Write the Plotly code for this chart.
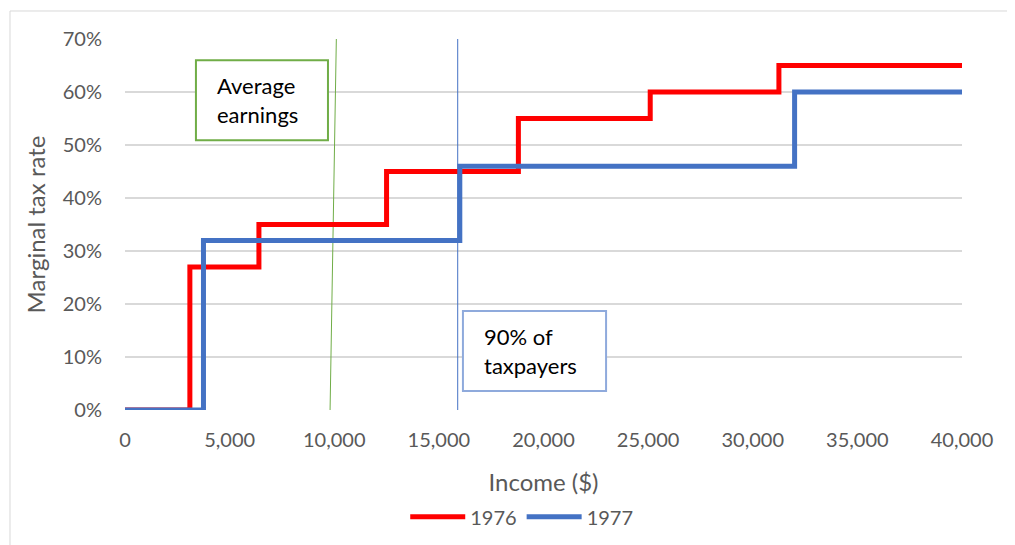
import plotly.graph_objects as go

# Data
income_1976 = [0, 3100, 6400, 12500, 18800, 25100, 31250, 40000]
rate_1976 = [0.0, 0.27, 0.35, 0.45, 0.55, 0.60, 0.65, 0.65]
income_1977 = [0, 3750, 16000, 32000, 40000]
rate_1977 = [0.0, 0.32, 0.46, 0.60, 0.60]
series_names = ["1976", "1977"]
avg_earnings_x = [9800, 10100]
taxpayers90_x = [15900, 15900]
ref_y = [0.0, 0.70]
x_ticks = [0, 5000, 10000, 15000, 20000, 25000, 30000, 35000, 40000]
y_ticks = [0, 0.1, 0.2, 0.3, 0.4, 0.5, 0.6, 0.7]

FONT = "Lato"
TXT = "#595959"

fig = go.Figure()
fig.add_trace(go.Scatter(x=avg_earnings_x, y=ref_y, mode="lines",
                         line=dict(color="#70AD47", width=1), showlegend=False, hoverinfo="skip"))
fig.add_trace(go.Scatter(x=taxpayers90_x, y=ref_y, mode="lines",
                         line=dict(color="#4472C4", width=1), showlegend=False, hoverinfo="skip"))
fig.add_trace(go.Scatter(x=income_1976, y=rate_1976, mode="lines", name=series_names[0],
                         line=dict(color="#FF0000", width=5, shape="hv")))
fig.add_trace(go.Scatter(x=income_1977, y=rate_1977, mode="lines", name=series_names[1],
                         line=dict(color="#4472C4", width=5, shape="hv")))

# Annotation boxes
fig.add_shape(type="rect", xref="x", yref="y", x0=3390, x1=9700, y0=0.509, y1=0.660,
              line=dict(color="#70AD47", width=2), fillcolor="white", layer="above")
fig.add_shape(type="rect", xref="x", yref="y", x0=16150, x1=22990, y0=0.036, y1=0.187,
              line=dict(color="#8FAADC", width=2), fillcolor="white", layer="above")
fig.add_annotation(x=4300, y=0.5845, xref="x", yref="y", text="Average<br>earnings",
                   showarrow=False, xanchor="left", yanchor="middle", align="left",
                   font=dict(family=FONT, size=22, color="black"))
fig.add_annotation(x=17050, y=0.1115, xref="x", yref="y", text="90% of<br>taxpayers",
                   showarrow=False, xanchor="left", yanchor="middle", align="left",
                   font=dict(family=FONT, size=22, color="black"))

# Outer chart border (left and top edges)
fig.add_shape(type="line", xref="paper", yref="paper", x0=-0.1374, x1=-0.1374, y0=1.0755, y1=-0.5,
              line=dict(color="#D9D9D9", width=1))
fig.add_shape(type="line", xref="paper", yref="paper", x0=-0.1374, x1=1.2, y0=1.0755, y1=1.0755,
              line=dict(color="#D9D9D9", width=1))

fig.update_layout(
    width=1015, height=545,
    margin=dict(l=117, r=61, t=31, b=143),
    paper_bgcolor="white", plot_bgcolor="white",
    font=dict(family=FONT, size=20, color=TXT),
    showlegend=True,
    legend=dict(orientation="h", x=0.474, y=-0.288, xanchor="center", yanchor="middle",
                font=dict(family=FONT, size=20, color=TXT), itemwidth=55, tracegroupgap=0),
    xaxis=dict(range=[0, 40000], tickvals=x_ticks, tickformat=",d", showgrid=False,
               zeroline=False, showline=False, ticks="outside", ticklen=12, tickcolor="rgba(0,0,0,0)",
               tickfont=dict(family=FONT, size=20, color=TXT),
               title=dict(text="Income ($)", font=dict(family=FONT, size=24, color=TXT), standoff=24)),
    yaxis=dict(range=[0, 0.70], tickvals=y_ticks, tickformat=".0%", showgrid=True,
               gridcolor="#D9D9D9", gridwidth=1.5, zeroline=False, showline=False,
               ticks="outside", ticklen=18, tickcolor="rgba(0,0,0,0)",
               tickfont=dict(family=FONT, size=20, color=TXT),
               title=dict(text="Marginal tax rate", font=dict(family=FONT, size=24, color=TXT), standoff=10)),
)

fig.write_html("out.html")
